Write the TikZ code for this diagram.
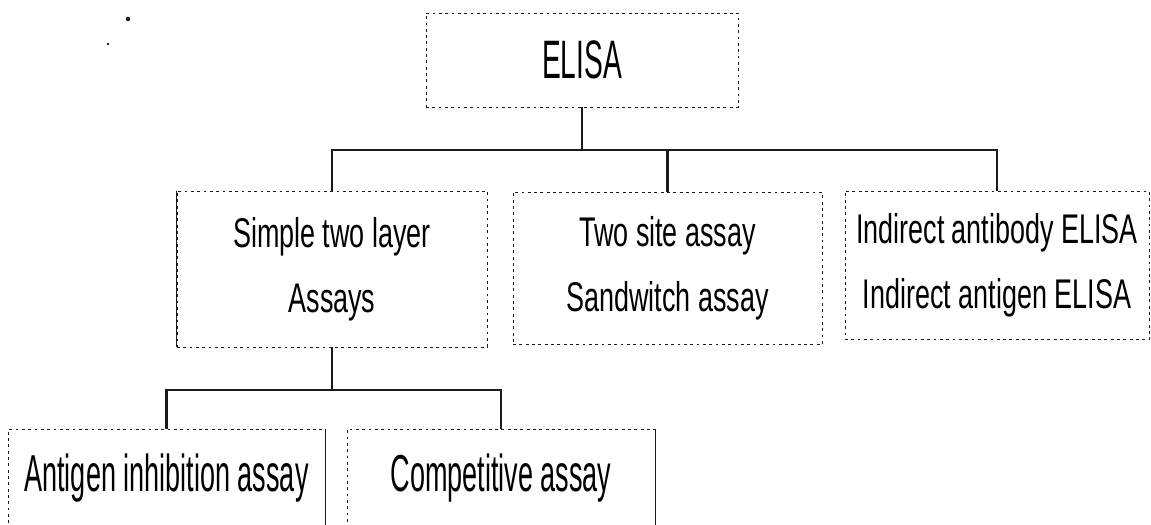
\documentclass[tikz,border=0pt]{standalone}
\usepackage{fontspec}
\setmainfont{Liberation Sans}
\newfontfamily\midfont[FakeStretch=0.65]{Liberation Sans}
\newfontfamily\bigfont[FakeStretch=0.52]{Liberation Sans}
\definecolor{ScanInk}{HTML}{1A1A1A}

\begin{document}
\begin{tikzpicture}[x=0.025cm, y=-0.025cm,
    box/.style={draw=ScanInk, line width=0.6pt, dash pattern=on 2pt off 2.5pt,
        inner sep=0pt, align=center},
    midbox/.style={box, font=\midfont\fontsize{29.5}{46}\selectfont},
    bigbox/.style={box, font=\bigfont\fontsize{37}{44}\selectfont},
    link/.style={ScanInk, line width=1.5pt},
    edge/.style={ScanInk, line width=1pt}]

    \useasboundingbox (0,0) rectangle (1151,525);
    \clip (0,0) rectangle (1151,525);

    % ========== TOP: ELISA ==========
    \node[bigbox, font=\bigfont\fontsize{38.5}{44}\selectfont,
        minimum width=7.8cm, minimum height=2.35cm] (elisa) at (582,60) {ELISA};

    % stray scan marks
    \fill[ScanInk] (128,19) circle (1.6pt);
    \fill[ScanInk] (108,44) circle (0.9pt);

    % ========== MIDDLE ROW ==========
    \node[midbox, minimum width=7.75cm, minimum height=3.9cm] (simple) at (332,269)
        {Simple two layer\\Assays};
    \node[midbox, minimum width=7.72cm, minimum height=3.82cm] (sandwich) at (667.5,268.5)
        {Two site assay\\Sandwitch assay};
    \node[midbox, minimum width=7.6cm, minimum height=3.72cm] (indirect) at (997,265.5)
        {Indirect antibody ELISA\\Indirect antigen ELISA};
    \draw[edge, line width=0.8pt] (simple.north west) -- (simple.south west);

    % ========== BOTTOM ROW ==========
    \node[bigbox, minimum width=7.92cm, minimum height=2.45cm] (inhibition) at (166.5,478.5)
        {Antigen inhibition assay};
    \node[bigbox, minimum width=7.7cm, minimum height=2.45cm] (competitive) at (501,478.5)
        {Competitive assay};
    \draw[edge] (inhibition.north east) -- (inhibition.south east);
    \draw[edge] (competitive.north east) -- (competitive.south east);

    % ========== CONNECTORS ==========
    \coordinate (bus) at (0,150);
    \coordinate (lowbus) at (0,390);
    \draw[link] (elisa.south) -- (elisa.south |- bus);
    \draw[link] (simple.north) |- (bus -| indirect.north) -- (indirect.north);
    \draw[link] (sandwich.north) -- (sandwich.north |- bus);

    \draw[link] (simple.south) -- (simple.south |- lowbus);
    \draw[link] (inhibition.north) |- (lowbus -| competitive.north) -- (competitive.north);

\end{tikzpicture}
\end{document}
